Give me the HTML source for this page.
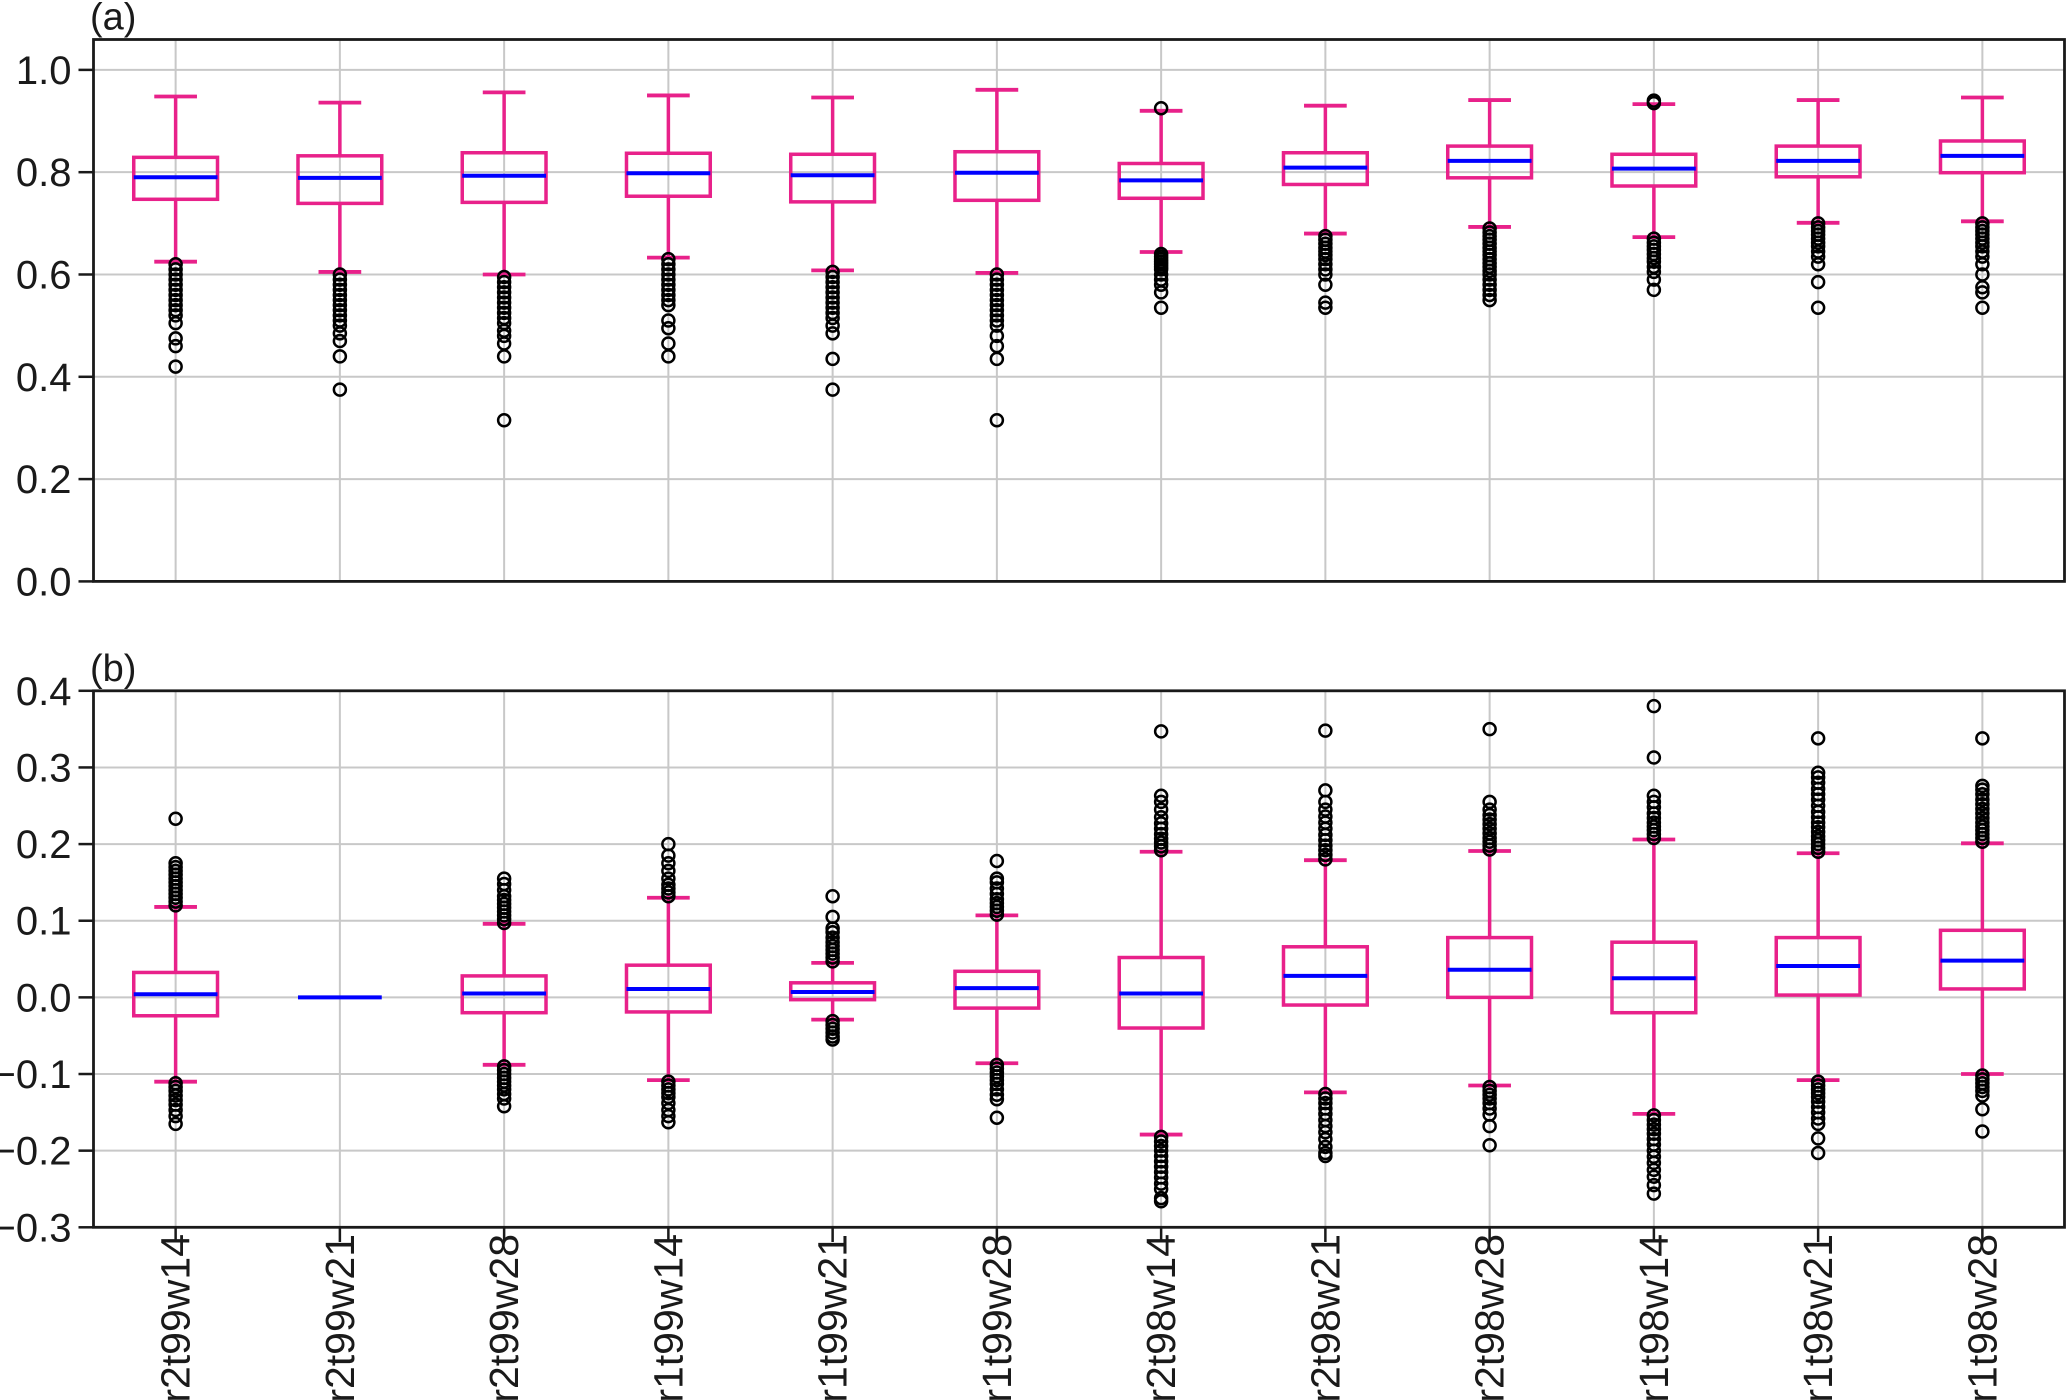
<!DOCTYPE html>
<html><head><meta charset="utf-8">
<style>
html,body{margin:0;padding:0;background:#fff;}
svg{display:block;font-family:"Liberation Sans",Arial,sans-serif;}
</style></head>
<body>
<svg id="chart" width="2067" height="1400" viewBox="0 0 2067 1400" xmlns="http://www.w3.org/2000/svg"></svg>
<script>
const categories = ["r2t99w14","r2t99w21","r2t99w28","r1t99w14","r1t99w21","r1t99w28","r2t98w14","r2t98w21","r2t98w28","r1t98w14","r1t98w21","r1t98w28"];
// Panel (a)
const aWhiskLo = [0.625,0.605,0.600,0.633,0.608,0.603,0.644,0.680,0.693,0.673,0.701,0.704];
const aQ1      = [0.747,0.739,0.741,0.753,0.742,0.745,0.749,0.776,0.789,0.773,0.791,0.799];
const aMed     = [0.790,0.789,0.793,0.798,0.794,0.799,0.784,0.809,0.822,0.807,0.822,0.832];
const aQ3      = [0.829,0.832,0.838,0.837,0.835,0.840,0.817,0.838,0.851,0.835,0.851,0.861];
const aWhiskHi = [0.948,0.936,0.956,0.950,0.946,0.961,0.920,0.930,0.941,0.933,0.941,0.946];
const aOut = [
 [0.62,0.61,0.60,0.59,0.58,0.57,0.56,0.55,0.54,0.53,0.52,0.505,0.475,0.46,0.42],
 [0.60,0.59,0.58,0.57,0.56,0.55,0.54,0.53,0.52,0.51,0.50,0.485,0.47,0.44,0.375],
 [0.595,0.585,0.575,0.565,0.555,0.545,0.535,0.525,0.515,0.505,0.49,0.48,0.465,0.44,0.315],
 [0.63,0.62,0.61,0.60,0.59,0.58,0.57,0.56,0.55,0.54,0.51,0.495,0.465,0.44],
 [0.605,0.595,0.585,0.575,0.565,0.555,0.545,0.535,0.525,0.515,0.50,0.485,0.435,0.375],
 [0.60,0.59,0.58,0.57,0.56,0.55,0.54,0.53,0.52,0.51,0.50,0.48,0.46,0.435,0.315],
 [0.64,0.635,0.63,0.625,0.62,0.615,0.61,0.60,0.59,0.58,0.565,0.535,0.925],
 [0.675,0.668,0.66,0.652,0.645,0.638,0.63,0.62,0.61,0.60,0.58,0.545,0.535],
 [0.69,0.682,0.675,0.668,0.66,0.652,0.645,0.638,0.63,0.622,0.615,0.607,0.60,0.59,0.58,0.57,0.56,0.55],
 [0.67,0.662,0.655,0.648,0.64,0.632,0.625,0.615,0.605,0.59,0.57,0.94,0.935],
 [0.70,0.692,0.685,0.678,0.67,0.662,0.655,0.645,0.635,0.62,0.585,0.535],
 [0.70,0.692,0.685,0.678,0.67,0.662,0.655,0.645,0.635,0.62,0.60,0.575,0.565,0.535]
];
// Panel (b)
const bWhiskLo = [-0.110,0,-0.088,-0.108,-0.029,-0.086,-0.179,-0.124,-0.115,-0.152,-0.108,-0.100];
const bQ1      = [-0.024,0,-0.020,-0.019,-0.003,-0.014,-0.040,-0.010,0.000,-0.020,0.003,0.011];
const bMed     = [0.004,0,0.005,0.011,0.007,0.012,0.005,0.028,0.036,0.025,0.041,0.048];
const bQ3      = [0.0325,0,0.028,0.042,0.019,0.034,0.052,0.066,0.078,0.072,0.078,0.0875];
const bWhiskHi = [0.118,0,0.096,0.130,0.045,0.107,0.190,0.179,0.191,0.206,0.188,0.201];
const bOut = [
 [0.12,0.125,0.13,0.135,0.14,0.145,0.15,0.155,0.16,0.165,0.17,0.175,0.233,-0.112,-0.117,-0.122,-0.128,-0.134,-0.14,-0.147,-0.155,-0.165],
 [],
 [0.097,0.102,0.107,0.112,0.117,0.122,0.127,0.132,0.14,0.148,0.155,-0.09,-0.095,-0.10,-0.105,-0.11,-0.115,-0.12,-0.126,-0.132,-0.142],
 [0.132,0.137,0.142,0.147,0.155,0.165,0.175,0.185,0.2,-0.11,-0.115,-0.12,-0.125,-0.13,-0.138,-0.147,-0.155,-0.163],
 [0.047,0.052,0.057,0.062,0.067,0.072,0.078,0.085,0.09,0.105,0.132,-0.031,-0.036,-0.041,-0.046,-0.051,-0.055],
 [0.108,0.113,0.118,0.123,0.128,0.135,0.142,0.15,0.155,0.178,-0.088,-0.093,-0.098,-0.103,-0.108,-0.113,-0.12,-0.127,-0.133,-0.157],
 [0.192,0.197,0.202,0.207,0.213,0.22,0.227,0.235,0.245,0.255,0.263,0.347,-0.182,-0.188,-0.194,-0.2,-0.207,-0.214,-0.221,-0.228,-0.235,-0.243,-0.25,-0.262,-0.266],
 [0.18,0.186,0.192,0.198,0.205,0.212,0.22,0.228,0.236,0.245,0.255,0.27,0.348,-0.126,-0.132,-0.138,-0.145,-0.152,-0.16,-0.168,-0.176,-0.185,-0.195,-0.203,-0.207],
 [0.193,0.198,0.203,0.208,0.214,0.22,0.226,0.232,0.238,0.245,0.255,0.35,-0.117,-0.122,-0.127,-0.132,-0.138,-0.145,-0.153,-0.168,-0.193],
 [0.208,0.213,0.218,0.223,0.228,0.234,0.24,0.248,0.255,0.263,0.313,0.380,-0.154,-0.16,-0.166,-0.172,-0.178,-0.185,-0.192,-0.2,-0.208,-0.216,-0.225,-0.234,-0.245,-0.256],
 [0.19,0.195,0.2,0.205,0.21,0.216,0.222,0.228,0.235,0.242,0.25,0.258,0.265,0.272,0.28,0.287,0.293,0.338,-0.11,-0.115,-0.12,-0.125,-0.13,-0.136,-0.143,-0.15,-0.158,-0.165,-0.184,-0.203],
 [0.203,0.208,0.213,0.218,0.223,0.228,0.234,0.24,0.246,0.252,0.258,0.265,0.271,0.276,0.338,-0.102,-0.107,-0.112,-0.117,-0.122,-0.128,-0.146,-0.175]
];
const aTicks = [0.0,0.2,0.4,0.6,0.8,1.0];
const aTickLabels = ["0.0","0.2","0.4","0.6","0.8","1.0"];
const bTicks = [-0.3,-0.2,-0.1,0.0,0.1,0.2,0.3,0.4];
const bTickLabels = ["\u22120.3","\u22120.2","\u22120.1","0.0","0.1","0.2","0.3","0.4"];

const NS="http://www.w3.org/2000/svg";
const svg=document.getElementById('chart');
function mk(tag,attrs,parent){const e=document.createElementNS(NS,tag);for(const k in attrs)e.setAttribute(k,attrs[k]);(parent||svg).appendChild(e);return e;}

const X0=93.5, X1=2064.5;
const xScale=i=>X0+(i+0.5)*(X1-X0)/categories.length;
const step=(X1-X0)/categories.length;
const PINK="#e8218a", BLUE="#0000ff";

function panel(cfg){
  const g=mk('g',{});
  
  
  const y=v=>cfg.bot+(v-cfg.vmin)*(cfg.top-cfg.bot)/(cfg.vmax-cfg.vmin);
  cfg.ticks.forEach((t,i)=>{
    const gl=mk('line',{x1:X0,x2:X1,y1:y(t),y2:y(t),stroke:'#c8c8c8','stroke-width':2},g);
    
    
    const tk=mk('line',{x1:X0-15,x2:X0,y1:y(t),y2:y(t),stroke:'#1a1a1a','stroke-width':2.5},g);
    
    
    const tx=mk('text',{x:X0-22,y:y(t)+14,'text-anchor':'end','font-size':40,fill:'#1a1a1a'},g);
    tx.textContent=cfg.labels[i];
    
    
  });
  categories.forEach((c,i)=>{
    const xg=mk('line',{x1:xScale(i),x2:xScale(i),y1:cfg.top,y2:cfg.bot,stroke:'#c8c8c8','stroke-width':2},g);
    
    
  });
  categories.forEach((c,i)=>{
    const bg=mk('g',{},g);
    
    
    const cx=xScale(i), hw=step*0.255, cw=step*0.13;
    const degenerate = cfg.q3[i]===cfg.q1[i] && cfg.hi[i]===cfg.lo[i];
    if(!degenerate){
      mk('line',{x1:cx,x2:cx,y1:y(cfg.q3[i]),y2:y(cfg.hi[i]),stroke:PINK,'stroke-width':3.5},bg);
      mk('line',{x1:cx,x2:cx,y1:y(cfg.q1[i]),y2:y(cfg.lo[i]),stroke:PINK,'stroke-width':3.5},bg);
      mk('line',{x1:cx-cw,x2:cx+cw,y1:y(cfg.hi[i]),y2:y(cfg.hi[i]),stroke:PINK,'stroke-width':3.8},bg);
      mk('line',{x1:cx-cw,x2:cx+cw,y1:y(cfg.lo[i]),y2:y(cfg.lo[i]),stroke:PINK,'stroke-width':3.8},bg);
      mk('rect',{x:cx-hw,y:y(cfg.q3[i]),width:2*hw,height:y(cfg.q1[i])-y(cfg.q3[i]),fill:'none',stroke:PINK,'stroke-width':3.5},bg);
    }
    const md=mk('line',{x1:cx-hw,x2:cx+hw,y1:y(cfg.med[i]),y2:y(cfg.med[i]),stroke:BLUE,'stroke-width':4},bg);
    
    
    cfg.out[i].forEach(v=>{
      const o=mk('circle',{cx:cx,cy:y(v),r:6,fill:'none',stroke:'#000','stroke-width':2.5},bg);
      
      
    });
  });
  const fr=mk('rect',{x:X0,y:cfg.top,width:X1-X0,height:cfg.bot-cfg.top,fill:'none',stroke:'#1a1a1a','stroke-width':2.8},g);
  
  
  const pl=mk('text',{x:90,y:cfg.top-10,'font-size':38,fill:'#1a1a1a'},g);
  pl.textContent=cfg.title;
  
  
  return y;
}

panel({name:'panel-a',title:'(a)',top:39.5,bot:581.4,vmin:0,vmax:1.0594,ticks:aTicks,labels:aTickLabels,
  lo:aWhiskLo,q1:aQ1,med:aMed,q3:aQ3,hi:aWhiskHi,out:aOut});
panel({name:'panel-b',title:'(b)',top:690.8,bot:1227.3,vmin:-0.3,vmax:0.4,ticks:bTicks,labels:bTickLabels,
  lo:bWhiskLo,q1:bQ1,med:bMed,q3:bQ3,hi:bWhiskHi,out:bOut});

categories.forEach((c,i)=>{
  const cx=xScale(i);
  const tk=mk('line',{x1:cx,x2:cx,y1:1227.3,y2:1242,stroke:'#1a1a1a','stroke-width':2.5});
  
  
  const t=mk('text',{x:0,y:0,'text-anchor':'end','font-size':41,fill:'#1a1a1a',transform:`translate(${cx+14},1234) rotate(-90)`});
  t.textContent=c;
  
  
});
</script>
</body></html>
